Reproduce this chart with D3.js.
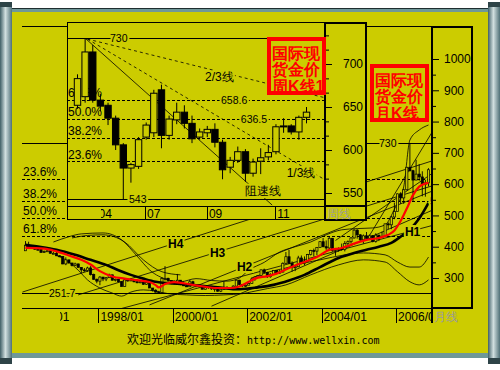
<!DOCTYPE html>
<html>
<head>
<meta charset="utf-8">
<script src="https://cdn.jsdelivr.net/npm/d3@7"></script>
<style>
  html, body { margin: 0; padding: 0; background: #fff; }
  svg { display: block; }
  text { font-family: "Liberation Sans", Arial, sans-serif; }
</style>
</head>
<body>
<script>
// ---------- monthly data (1996/01 .. 2006/11), [open, high, low, close] ----------
const monthly = [
  [387,418,387,405],[405,416,395,400],[400,401,394,396],[396,396,390,392],[392,395,389,391],[391,392,381,382],
  [382,388,380,385],[385,389,384,387],[387,388,378,379],[379,384,377,379],[379,384,370,371],[371,373,367,369],
  [369,369,344,345],[345,366,341,358],[358,358,346,348],[348,348,337,340],[340,349,338,345],[345,346,334,334],
  [334,335,316,326],[326,332,320,324],[324,336,320,332],[332,338,308,311],[311,314,294,296],[296,298,283,290],
  [290,306,277,303],[303,303,290,297],[297,303,290,301],[301,314,300,310],[310,311,292,293],[293,298,289,296],
  [296,297,287,288],[288,289,273,273],[273,299,272,294],[294,300,288,292],[292,300,290,294],[294,297,286,288],
  [288,292,283,287],[287,290,283,288],[288,298,278,280],[280,291,278,286],[286,290,268,268],[268,268,257,261],
  [261,264,253,255],[255,259,252,254],[254,302,253,299],[299,338,292,299],[299,301,288,292],[292,292,280,290],
  [290,292,280,283],[283,313,283,293],[293,293,277,279],[279,289,275,275],[275,280,271,272],[272,294,272,288],
  [288,291,275,276],[276,280,270,278],[278,279,270,273],[273,275,264,264],[264,270,263,269],[269,274,265,274],
  [274,274,262,265],[265,269,256,267],[267,268,256,258],[258,265,255,264],[264,289,263,267],[267,274,265,270],
  [270,270,264,265],[265,277,265,274],[274,295,270,293],[293,294,277,279],[279,280,271,275],[275,280,271,277],
  [277,285,277,282],[282,302,282,297],[297,305,291,303],[303,309,300,308],[308,327,306,326],[326,330,315,318],
  [318,320,300,304],[304,315,301,312],[312,325,311,324],[324,325,312,317],[317,326,313,319],[319,350,318,347],
  [347,383,345,368],[368,390,345,347],[347,353,320,334],[334,341,322,336],[336,371,335,364],[364,372,344,346],
  [346,369,341,354],[354,377,352,375],[375,390,372,388],[388,394,369,386],[386,399,373,398],[398,417,397,416],
  [416,428,398,400],[400,420,390,396],[396,431,392,427],[427,428,384,388],[388,396,371,393],[393,398,384,394],
  [394,410,387,391],[391,418,385,410],[410,420,398,416],[416,431,410,428],[428,456,426,453],[453,456,426,438],
  [438,440,415,422],[422,439,410,435],[435,447,425,427],[427,439,423,435],[435,437,414,417],[417,443,413,437],
  [437,438,418,429],[429,448,429,433],[433,474,432,473],[473,478,456,470],[470,498,456,495],[495,541,488,513],
  [513,570,514,569],[569,574,537,556],[556,585,537,582],[582,654,580,654],[654,730,640,643],[643,646,543,613],
  [613,678,613,632],[632,664,611,623],[623,641,561,599],[599,614,560,604],[604,651,593,646]
];

// moving averages, [month index, price]
const redMA = [
  [0,396],[6,394],[10,385],[14,372],[18,358],[21,343],[24,322],[28,305],[32,298],[36,293],[40,287],
  [42,277],[43,270],[45,281],[48,287],[54,278],[58,272],[61,268],[66,268],[69,273],[72,288],[74,298],
  [78,306],[81,314],[85,332],[89,348],[94,367],[98,390],[102,396],[106,410],[110,422],[114,428],
  [117,438],[119,452],[121,482],[123,522],[125,565],[127,592],[129,602],[130,604]
];
const blackMA = [
  [0,406],[5,399],[10,390],[16,374],[21,358],[26,342],[30,325],[34,310],[38,298],[42,288],[50,281],
  [56,276],[62,270],[69,264],[75,270],[80,278],[85,292],[90,310],[95,335],[101,364],[106,380],[110,390],
  [114,400],[118,412],[121,432],[124,455],[127,490],[130,540]
];
// envelope curves
const bands = [
  [[9,415],[14,432],[18,441],[25,444],[31,422],[36,370],[40,326],[46,294],[50,288],[55,298],[60,292],
   [65,290],[69,300],[72,325],[77,350],[82,383],[87,400],[92,415],[97,438],[102,454],[107,458],
   [112,460],[116,470],[119,520],[122,591],[124,741],[127,773],[130,789]],
  [[15,428],[20,436],[25,438],[32,415],[38,358],[44,320],[50,310]],
  [[73,300],[78,318],[84,332],[90,348],[95,358],[103,374],[109,380],[116,374],[120,351],[124,335],[127,335],[130,367]],
  [[10,372],[13,358],[17,325],[20,294],[24,268],[28,252],[31,242],[34,255],[38,262],[42,258],[46,250],
   [52,246],[58,244],[64,246],[70,250],[73,256],[78,266],[84,278],[92,310],[101,342],[109,358],[116,351],
   [120,320],[124,288],[127,278],[130,294]]
];
// straight trend lines, [[month, price], [month, price]]
const trendLines = [
  [[-1,255],[132,677]],
  [[17,246],[132,597]],
  [[40,214],[132,581]],
  [[60,210],[132,520]],
  [[30,200],[132,470]],
  [[110,420],[132,780]],
  [[100,420],[132,640]]
];
const hNames = ["H4","H3","H2","H1"];
const hAnchors = [[46,396],[59.5,367],[68.2,323],[122.4,434]];

const fibMonthly = [617.1, 547.3, 490.9, 434.4];
const fibMonthlyLabels = ["23.6%","38.2%","50.0%","61.8%"];
const monthTicks = [0,24,48,72,96,120];
const monthLabels = ["1996/01","1998/01","2000/01","2002/01","2004/01","2006/01"];
const monthAxisMajor = [300,400,500,600,700,800,900,1000];
const monthAxisMinor = [350,450,550,650,750,850,950];

// ---------- weekly data (inset), [open, high, low, close] ----------
const weekly = [
  [652,688,648,683],[662,730,655,714],[714,722,655,658],[658,665,645,651],[652,655,629,637],
  [637,640,600,606],[606,608,543,579],[579,585,562,583],[581,615,578,612],[615,632,612,629],
  [620,670,615,666],[670,676,602,617],[617,640,612,636],[635,655,630,644],[644,652,625,631],
  [631,640,608,613],[615,625,612,621],[620,628,615,624],[624,631,603,609],[609,612,566,577],
  [580,592,573,588],[588,604,585,598],[598,601,563,573],[573,590,569,586],[587,602,572,591],
  [592,606,588,597],[598,630,595,627],[627,637,620,628],[628,630,618,621],[621,640,612,638],
  [638,650,631,644]
];
const fibWeekly = [658.6, 636.5, 614.4, 587.1];
const fibWeeklyLabels = ["61.8%","50.0%","38.2%","23.6%"];
const weekTicks = [2.5, 8.85, 16.95, 25.9];
const weekLabels = ["04","07","09","11"];
const weekAxisMajor = [550,600,650,700];
const weekAxisMinor = [566.7,583.3,616.7,633.3,666.7,683.3,716.7,733.3];
// speed-resistance fan from the 730 top; label anchor in [week, price]
const fanLines = [
  {from:[1,730],   to:[25.5,536], dash:null,  name:"阻速线", at:[22,548]},
  {from:[1.3,729], to:[32.3,566], dash:"3,3", name:"1/3线", at:[27.4,569]},
  {from:[1.3,729], to:[32.3,661], dash:"3,3", name:"2/3线", at:[16.7,680]}
];

// ---------- drawing ----------
const W = 500, H = 370, YEL = '#cccc00';
const svg = d3.select('body').append('svg').attr('width', W).attr('height', H);
const defs = svg.append('defs');

const pole = defs.append('linearGradient').attr('id','pole')
  .attr('x1',0).attr('x2',1).attr('y1',0).attr('y2',0);
pole.append('stop').attr('offset','0%').attr('stop-color','#3f5f66');
pole.append('stop').attr('offset','45%').attr('stop-color','#d2e0e0');
pole.append('stop').attr('offset','100%').attr('stop-color','#4f7077');

defs.append('clipPath').attr('id','mPlot').append('rect').attr('x',22).attr('y',26).attr('width',410).attr('height',282);
defs.append('clipPath').attr('id','mStrip').append('rect').attr('x',60).attr('y',308).attr('width',372).attr('height',16);
defs.append('clipPath').attr('id','wPlot').append('rect').attr('x',67).attr('y',22).attr('width',258).attr('height',184);
defs.append('clipPath').attr('id','wStrip').append('rect').attr('x',101).attr('y',206).attr('width',224).attr('height',14);

// frame
svg.append('rect').attr('x',12).attr('y',8).attr('width',476).attr('height',350).attr('fill','#6f9898');
svg.append('rect').attr('x',12).attr('y',12).attr('width',476).attr('height',341).attr('fill',YEL);
svg.append('line').attr('x1',12).attr('x2',488).attr('y1',8.5).attr('y2',8.5).attr('stroke','#1e2e30');
svg.append('rect').attr('x',0).attr('y',2).attr('width',12).attr('height',362).attr('fill','url(#pole)');
svg.append('rect').attr('x',488).attr('y',2).attr('width',12).attr('height',362).attr('fill','url(#pole)');
[0,488].forEach(x => {
  svg.append('rect').attr('x',x).attr('y',2).attr('width',12).attr('height',5).attr('fill','#2e4448');
  svg.append('rect').attr('x',x).attr('y',358).attr('width',12).attr('height',6).attr('fill','#2e4448');
});

// ---------- monthly chart ----------
const xM = d3.scaleLinear().domain([0,131]).range([24,430.1]);
const yM = d3.scaleLinear().domain([300,1000]).range([278,59]);
const cx = i => xM(i) + 1.5;

const gm = svg.append('g');
gm.append('line').attr('x1',22).attr('x2',432).attr('y1',26.5).attr('y2',26.5).attr('stroke','#000');
gm.append('line').attr('x1',22).attr('x2',472).attr('y1',308.5).attr('y2',308.5).attr('stroke','#000');

const mp = gm.append('g').attr('clip-path','url(#mPlot)');

// fib dashed lines
mp.selectAll('line.fib').data(fibMonthly).join('line')
  .attr('x1',22).attr('x2',432)
  .attr('y1',d => Math.round(yM(d)) + 0.5).attr('y2',d => Math.round(yM(d)) + 0.5)
  .attr('stroke','#000').attr('stroke-dasharray','3,2');
// 730 and 251.7 levels
[730, 251.7].forEach(v => {
  mp.append('line').attr('x1',22).attr('x2',432)
    .attr('y1',Math.round(yM(v)) + 0.5).attr('y2',Math.round(yM(v)) + 0.5)
    .attr('stroke','#000');
});

// trend lines
mp.selectAll('line.tl').data(trendLines).join('line')
  .attr('x1',d => cx(d[0][0])).attr('y1',d => yM(d[0][1]))
  .attr('x2',d => cx(d[1][0])).attr('y2',d => yM(d[1][1]))
  .attr('stroke','#000').attr('stroke-width',0.8);

const lineM = d3.line().x(d => cx(d[0])).y(d => yM(d[1])).curve(d3.curveMonotoneX);
mp.selectAll('path.band').data(bands).join('path')
  .attr('d',lineM).attr('fill','none').attr('stroke','#000').attr('stroke-width',0.8);

// candles
const mc = mp.append('g');
mc.selectAll('line').data(monthly).join('line')
  .attr('x1',(d,i) => cx(i)).attr('x2',(d,i) => cx(i))
  .attr('y1',d => yM(d[1])).attr('y2',d => yM(d[2]))
  .attr('stroke','#000').attr('stroke-width',0.9);
mc.selectAll('rect').data(monthly).join('rect')
  .attr('x',(d,i) => cx(i) - 1.1).attr('width',2.2)
  .attr('y',d => yM(Math.max(d[0],d[3])))
  .attr('height',d => Math.max(1, Math.abs(yM(d[0]) - yM(d[3]))))
  .attr('fill',d => d[3] >= d[0] ? YEL : '#000')
  .attr('stroke','#000').attr('stroke-width',0.7);

mp.append('path').datum(blackMA).attr('d',lineM)
  .attr('fill','none').attr('stroke','#000').attr('stroke-width',2.6);
mp.append('path').datum(redMA).attr('d',lineM)
  .attr('fill','none').attr('stroke','#ff0000').attr('stroke-width',2.2);

// labels on monthly chart
const halo = sel => sel.attr('stroke',YEL).attr('stroke-width',4).attr('paint-order','stroke');
gm.selectAll('text.fib').data(fibMonthly).join('text')
  .attr('x',23).attr('y',d => yM(d) - 3)
  .attr('font-size',12).text((d,i) => fibMonthlyLabels[i]);
gm.append('text').attr('x',379).attr('y',yM(730) + 4)
  .attr('font-family','DejaVu Sans Mono').attr('font-size',10.5).call(halo).text('730');
gm.append('text').attr('x',49).attr('y',yM(251.7) + 4)
  .attr('font-family','DejaVu Sans Mono').attr('font-size',10.5).call(halo).text('251.7');
gm.selectAll('text.h').data(hAnchors).join('text')
  .attr('x',d => cx(d[0])).attr('y',d => yM(d[1]))
  .attr('font-family','Liberation Serif').attr('font-weight','bold').attr('font-size',12)
  .call(halo).text((d,i) => hNames[i]);

// monthly y axis box
const mAxis = svg.append('g');
mAxis.append('rect').attr('x',432).attr('y',27).attr('width',40).attr('height',281)
  .attr('fill',YEL).attr('stroke','#000').attr('stroke-width',2);
mAxis.append('g').attr('transform','translate(432,0)')
  .call(d3.axisRight(yM).tickValues(monthAxisMajor).tickSize(7).tickPadding(5).tickFormat(d3.format('d')))
  .call(g => g.select('.domain').remove())
  .call(g => g.selectAll('text').attr('font-size',12).attr('font-family','Liberation Sans').attr('fill','#000'));
mAxis.append('g').attr('transform','translate(432,0)')
  .call(d3.axisRight(yM).tickValues(monthAxisMinor).tickSize(4).tickFormat(''))
  .call(g => g.select('.domain').remove());

gm.append('text').attr('x',430).attr('y',yM(547.3) + 4)
  .attr('font-family','DejaVu Sans Mono').attr('font-size',10.5).call(halo).text('547.3');

// monthly time strip
const ms = svg.append('g').attr('clip-path','url(#mStrip)');
ms.selectAll('line').data(monthTicks).join('line')
  .attr('x1',d => Math.round(xM(d)) + 0.5).attr('x2',d => Math.round(xM(d)) + 0.5)
  .attr('y1',308).attr('y2',323).attr('stroke','#000');
ms.selectAll('text').data(monthTicks).join('text')
  .attr('x',d => xM(d) + 2).attr('y',321).attr('font-size',12)
  .text((d,i) => monthLabels[i]);
svg.append('line').attr('x1',432).attr('x2',432).attr('y1',308).attr('y2',323).attr('stroke','#000').attr('stroke-width',2);
svg.append('text').attr('x',434).attr('y',321).attr('font-size',12)
  .attr('font-family','Noto Sans CJK SC').attr('fill','#9a9a9a').text('月线');

// ---------- weekly inset ----------
const xW = d3.scaleLinear().domain([0,30]).range([77.5,306.5]);
const yW = d3.scaleLinear().domain([550,700]).range([193,64]);

const gw = svg.append('g');
gw.append('rect').attr('x',67).attr('y',22).attr('width',299).attr('height',198).attr('fill',YEL);
gw.append('rect').attr('x',67.5).attr('y',22.5).attr('width',258).attr('height',197)
  .attr('fill','none').attr('stroke','#000');
gw.append('line').attr('x1',67).attr('x2',366).attr('y1',206.5).attr('y2',206.5).attr('stroke','#000');

const wp = gw.append('g').attr('clip-path','url(#wPlot)');
wp.selectAll('line.fib').data(fibWeekly).join('line')
  .attr('x1',67).attr('x2',325)
  .attr('y1',d => Math.round(yW(d)) + 0.5).attr('y2',d => Math.round(yW(d)) + 0.5)
  .attr('stroke','#000').attr('stroke-dasharray','3,2');
[730, 543].forEach(v => {
  wp.append('line').attr('x1',67).attr('x2',325)
    .attr('y1',Math.round(yW(v)) + 0.5).attr('y2',Math.round(yW(v)) + 0.5).attr('stroke','#000');
});
wp.selectAll('text.fib').data(fibWeekly).join('text')
  .attr('x',68).attr('y',d => yW(d) - 2.5).attr('font-size',12)
  .text((d,i) => fibWeeklyLabels[i]);

wp.selectAll('line.fan').data(fanLines).join('line')
  .attr('x1',d => xW(d.from[0])).attr('y1',d => yW(d.from[1]))
  .attr('x2',d => xW(d.to[0])).attr('y2',d => yW(d.to[1]))
  .attr('stroke','#000').attr('stroke-width',0.8)
  .attr('stroke-dasharray',d => d.dash);

// weekly candles
const wc = wp.append('g');
wc.selectAll('line').data(weekly).join('line')
  .attr('x1',(d,i) => xW(i)).attr('x2',(d,i) => xW(i))
  .attr('y1',d => yW(d[1])).attr('y2',d => yW(d[2]))
  .attr('stroke','#000');
wc.selectAll('rect').data(weekly).join('rect')
  .attr('x',(d,i) => xW(i) - 3.2).attr('width',6.4)
  .attr('y',d => yW(Math.max(d[0],d[3])))
  .attr('height',d => Math.max(1, Math.abs(yW(d[0]) - yW(d[3]))))
  .attr('fill',d => d[3] >= d[0] ? YEL : '#000')
  .attr('stroke','#000');

// weekly level labels
const mono = sel => sel.attr('font-family','DejaVu Sans Mono').attr('font-size',10.5).call(halo);
wp.append('text').attr('x',110).attr('y',yW(730) + 4).call(mono).text('730');
wp.append('text').attr('x',129).attr('y',yW(543) + 4).call(mono).text('543');
wp.append('text').attr('x',xW(18.8)).attr('y',yW(658.6) + 4).call(mono).text('658.6');
wp.append('text').attr('x',xW(21.4)).attr('y',yW(636.5) + 4).call(mono).text('636.5');
// fan labels
wp.selectAll('text.fan').data(fanLines).join('text')
  .attr('x',d => xW(d.at[0])).attr('y',d => yW(d.at[1]))
  .attr('font-size',12).attr('font-family','Noto Sans CJK SC')
  .call(halo).text(d => d.name);

// weekly y axis box
const wa = gw.append('g');
wa.append('rect').attr('x',325).attr('y',23).attr('width',41).attr('height',197)
  .attr('fill','none').attr('stroke','#000').attr('stroke-width',2);
wa.append('line').attr('x1',325).attr('x2',366).attr('y1',206).attr('y2',206).attr('stroke','#000').attr('stroke-width',2);
wa.append('g').attr('transform','translate(325,0)')
  .call(d3.axisRight(yW).tickValues(weekAxisMajor).tickSize(7).tickPadding(11).tickFormat(d3.format('d')))
  .call(g => g.select('.domain').remove())
  .call(g => g.selectAll('text').attr('font-size',12).attr('font-family','Liberation Sans').attr('fill','#000'));
wa.append('g').attr('transform','translate(325,0)')
  .call(d3.axisRight(yW).tickValues(weekAxisMinor).tickSize(4).tickFormat(''))
  .call(g => g.select('.domain').remove());
gw.append('text').attr('x',327).attr('y',218).attr('font-size',12)
  .attr('font-family','Noto Sans CJK SC').attr('fill','#9a9a9a').text('周线');

// weekly time strip
const ws = gw.append('g').attr('clip-path','url(#wStrip)');
ws.selectAll('line').data(weekTicks).join('line')
  .attr('x1',d => Math.round(xW(d)) + 0.5).attr('x2',d => Math.round(xW(d)) + 0.5)
  .attr('y1',206).attr('y2',220).attr('stroke','#000');
ws.selectAll('text').data(weekTicks).join('text')
  .attr('x',d => xW(d) + 2).attr('y',218).attr('font-size',12)
  .text((d,i) => weekLabels[i]);

// ---------- red title boxes ----------
const titles = [
  {x:269, y:39, lines:["国际现","货金价","周K线1"]},
  {x:372, y:66, lines:["国际现","货金价","月K线"]}
];
titles.forEach(t => {
  const g = svg.append('g');
  g.append('rect').attr('x',t.x).attr('y',t.y).attr('width',55).attr('height',54)
    .attr('fill',YEL).attr('stroke','#ff0000').attr('stroke-width',4);
  g.selectAll('text').data(t.lines).join('text')
    .attr('x',t.x + 3).attr('y',(d,i) => t.y + 19.5 + i * 16.5)
    .attr('font-family','Noto Sans CJK SC').attr('font-weight','bold')
    .attr('font-size',16).attr('fill','#ff0000').text(d => d);
});

// ---------- footer ----------
const foot = svg.append('text').attr('x',127).attr('y',344).attr('font-size',12);
foot.append('tspan').attr('font-family','Noto Sans CJK SC').text('欢迎光临威尔鑫投资：');
foot.append('tspan').attr('font-family','DejaVu Sans Mono').attr('font-size',10).text('http://www.wellxin.com');
</script>
</body>
</html>
